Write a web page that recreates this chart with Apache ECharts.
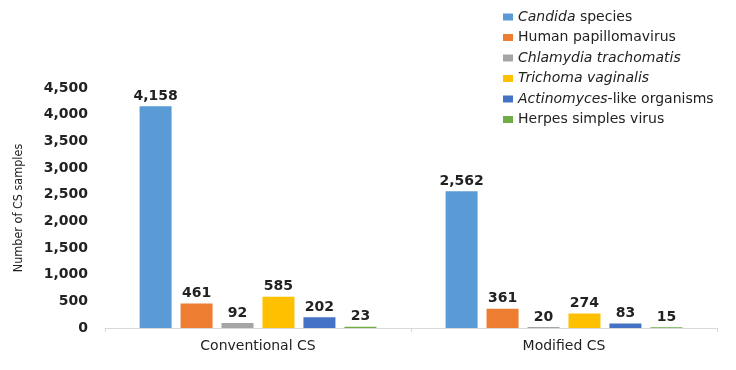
<!DOCTYPE html>
<html><head><meta charset="utf-8">
<script src="https://cdn.jsdelivr.net/npm/echarts@6/dist/echarts.min.js"></script>
<style>html,body{margin:0;padding:0;background:#fff}#c{width:736px;height:370px}</style>
</head><body><div id="c"></div>
<script>
const categories = ['Conventional CS', 'Modified CS'];
const seriesNames = ['Candida species', 'Human papillomavirus', 'Chlamydia trachomatis', 'Trichoma vaginalis', 'Actinomyces-like organisms', 'Herpes simples virus'];
const candida = [4158, 2562];
const hpv = [461, 361];
const chlamydia = [92, 20];
const trichoma = [585, 274];
const actinomyces = [202, 83];
const herpes = [23, 15];
const yTicks = [0, 500, 1000, 1500, 2000, 2500, 3000, 3500, 4000, 4500];
const colors = ['#5B9BD5', '#ED7D31', '#A5A5A5', '#FFC000', '#4472C4', '#70AD47'];
const legendRich = {
  'Candida species': '{i|Candida}{n| species}',
  'Human papillomavirus': '{n|Human papillomavirus}',
  'Chlamydia trachomatis': '{i|Chlamydia trachomatis}',
  'Trichoma vaginalis': '{i|Trichoma vaginalis}',
  'Actinomyces-like organisms': '{i|Actinomyces}{n|-like organisms}',
  'Herpes simples virus': '{n|Herpes simples virus}'
};
const allData = [candida, hpv, chlamydia, trichoma, actinomyces, herpes];
const font = 'DejaVu Sans';
const chart = echarts.init(document.getElementById('c'), null, {renderer: 'canvas'});
chart.setOption({
  animation: false,
  color: colors,
  grid: {left: 105, right: 19, top: 88, bottom: 42, containLabel: false},
  legend: {
    orient: 'vertical', left: 498, top: 5, itemWidth: 10, itemHeight: 7, itemGap: 6.5,
    icon: 'rect',
    formatter: n => legendRich[n],
    textStyle: {
      fontFamily: font, fontSize: 14, color: '#222', padding: [0,0,0,0],
      rich: {
        i: {fontFamily: font, fontSize: 14, fontStyle: 'italic', color: '#222'},
        n: {fontFamily: font, fontSize: 14, color: '#222'}
      }
    }
  },
  xAxis: {
    type: 'category', data: categories,
    axisLine: {lineStyle: {color: '#d9d9d9'}},
    axisTick: {show: true, length: 4, lineStyle: {color: '#d9d9d9'}},
    axisLabel: {fontFamily: font, fontSize: 14, color: '#222', margin: 11}
  },
  yAxis: {
    type: 'value', min: 0, max: 4500, interval: 500,
    name: 'Number of CS samples', nameLocation: 'middle', nameGap: 80, nameRotate: 90,
    nameTextStyle: {fontFamily: '"DejaVu Sans Condensed", "Liberation Sans", sans-serif', fontSize: 12.5, color: '#222'},
    axisLine: {show: false}, axisTick: {show: false}, splitLine: {show: false},
    axisLabel: {fontFamily: font, fontSize: 14, fontWeight: 'bold', color: '#222', margin: 17,
      formatter: v => yTicks.includes(v) ? v.toLocaleString('en-US') : ''}
  },
  series: seriesNames.map((name, i) => ({
    name, type: 'bar', data: allData[i], barWidth: 32, barGap: '28%',
    label: {show: true, position: 'top', distance: 3, fontFamily: font, fontSize: 14, fontWeight: 'bold', color: '#222',
      formatter: p => p.value.toLocaleString('en-US')}
  }))
});
</script></body></html>
